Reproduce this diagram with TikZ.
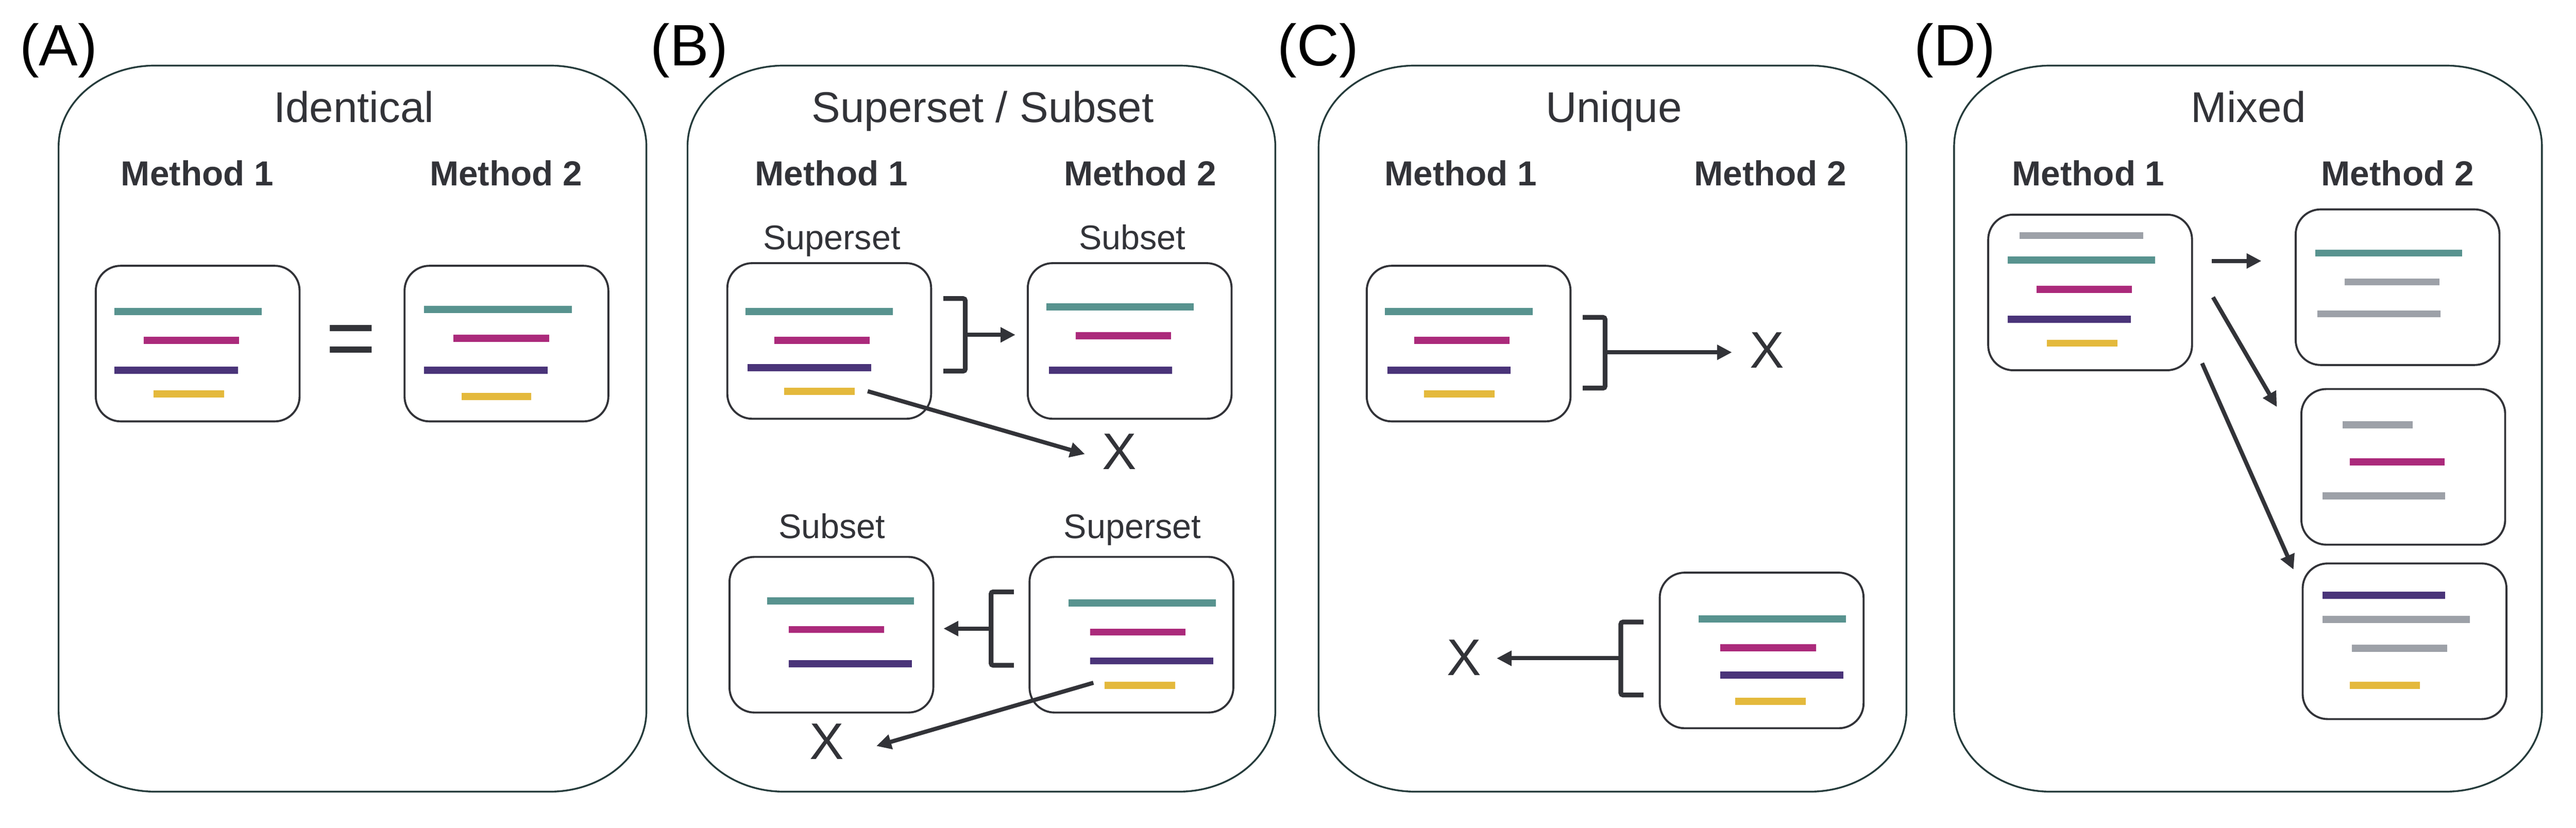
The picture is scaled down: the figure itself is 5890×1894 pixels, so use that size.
\documentclass[tikz,border=0pt]{standalone}
\usepackage{fontspec}
\setmainfont{Liberation Sans}
\usetikzlibrary{arrows.meta}

\definecolor{ink}{HTML}{323338}
\definecolor{frame}{HTML}{263C3C}
\definecolor{barteal}{HTML}{58938F}
\definecolor{barmagenta}{HTML}{AB2A7B}
\definecolor{barpurple}{HTML}{4A3479}
\definecolor{baryellow}{HTML}{E4B93C}
\definecolor{bargray}{HTML}{9DA1A8}

\begin{document}
\begin{tikzpicture}[
    x = 0.1mm, y = -0.1mm,
    panel/.style   = {draw = frame, line width = 1.15pt},
    listbox/.style = {draw = ink, line width = 1.3pt, rounded corners = 5.7mm,
                      minimum width = 46.6mm, minimum height = 35.6mm, inner sep = 0pt},
    bar/.style     = {draw = #1, line width = 4.6pt},
    letter/.style  = {anchor = base, font = \fontsize{38}{40}\selectfont},
    heading/.style = {anchor = base, text = ink, font = \fontsize{28}{30}\selectfont},
    method/.style  = {anchor = base, text = ink, font = \fontsize{22.6}{24}\selectfont\bfseries},
    setname/.style = {anchor = base, text = ink, font = \fontsize{22.3}{24}\selectfont},
    gone/.style    = {text = ink, inner sep = 0pt, font = \fontsize{33.5}{35}\selectfont},
    bracket/.style = {draw = ink, line width = 3.1pt, rounded corners = 0.5mm},
    arr/.style     = {draw = ink, line width = 2.7pt, -{Triangle[length = 3.4mm, width = 3.3mm]}}
  ]
  \useasboundingbox (0,0) rectangle (5890,1894);
  % panels
  \foreach \px in {134, 1572, 3015, 4468}
    \draw[panel] (\px,335) .. controls (\px,233) and (\px+99,150) .. (\px+220,150)
      -- (\px+1124,150) .. controls (\px+1245,150) and (\px+1344,233) .. (\px+1344,335)
      -- (\px+1344,1626) .. controls (\px+1344,1728) and (\px+1245,1811) .. (\px+1124,1811)
      -- (\px+220,1811) .. controls (\px+99,1811) and (\px,1728) .. (\px,1626) -- cycle;
  % panel letters and headings
  \node[letter]  (lA) at (134, 150)  {(A)};
  \node[letter]  (lB) at (1576, 150) {(B)};
  \node[letter]  (lC) at (3014, 150) {(C)};
  \node[letter]  (lD) at (4470, 150) {(D)};
  \node[heading] (hA) at (809, 280)  {Identical};
  \node[heading] (hB) at (2247, 280) {Superset / Subset};
  \node[heading] (hC) at (3690, 280) {Unique};
  \node[heading] (hD) at (5141, 280) {Mixed};
  \node[method] (mA1) at (451, 425)  {Method 1};
  \node[method] (mA2) at (1157, 425) {Method 2};
  \node[method] (mB1) at (1901, 425) {Method 1};
  \node[method] (mB2) at (2607, 425) {Method 2};
  \node[method] (mC1) at (3340, 425) {Method 1};
  \node[method] (mC2) at (4048, 425) {Method 2};
  \node[method] (mD1) at (4775, 425) {Method 1};
  \node[method] (mD2) at (5482, 425) {Method 2};
  \node[setname] (sup1) at (1902, 571)  {Superset};
  \node[setname] (sub1) at (2589, 571)  {Subset};
  \node[setname] (sub2) at (1902, 1232) {Subset};
  \node[setname] (sup2) at (2589, 1232) {Superset};
  % result lists
  \node[listbox] (A1) at (452, 786)   {};
  \node[listbox] (A2) at (1158, 786)  {};
  \node[listbox] (B1) at (1896, 780)  {};
  \node[listbox] (B2) at (2583, 780)  {};
  \node[listbox] (B3) at (1901, 1452) {};
  \node[listbox] (B4) at (2587, 1452) {};
  \node[listbox] (C1) at (3358, 786)  {};
  \node[listbox] (C2) at (4028, 1488) {};
  \node[listbox] (D1) at (4779, 669)  {};
  \node[listbox] (D2) at (5482, 657)  {};
  \node[listbox] (D3) at (5495, 1068) {};
  \node[listbox] (D4) at (5498, 1467) {};
  \foreach \c/\xa/\xb/\yy in {
      barteal/262/599/713, barmagenta/329/547/779, barpurple/262/544/847, baryellow/351/513/901,
      barteal/970/1307/708, barmagenta/1037/1256/774, barpurple/970/1252/847, baryellow/1055/1215/907,
      barteal/1705/2041/713, barmagenta/1771/1989/779, barpurple/1709/1992/841, baryellow/1793/1954/895,
      barteal/2393/2729/702, barmagenta/2460/2678/768, barpurple/2398/2680/847,
      barteal/1754/2090/1375, barmagenta/1804/2022/1440, barpurple/1804/2085/1518,
      barteal/2443/2780/1379, barmagenta/2493/2711/1446, barpurple/2493/2774/1512, baryellow/2526/2687/1568,
      barteal/3167/3504/713, barmagenta/3233/3452/779, barpurple/3172/3454/847, baryellow/3256/3417/901,
      barteal/3884/4221/1416, barmagenta/3933/4152/1482, barpurple/3933/4215/1544, baryellow/3967/4129/1604,
      bargray/4618/4900/539, barteal/4591/4927/595, barmagenta/4657/4875/662, barpurple/4591/4872/730, baryellow/4680/4841/785,
      barteal/5294/5630/579, bargray/5361/5578/645, bargray/5299/5580/718,
      bargray/5356/5516/972, barmagenta/5373/5589/1057, bargray/5310/5591/1134,
      barpurple/5310/5591/1362, bargray/5310/5647/1417, bargray/5377/5596/1483, baryellow/5373/5533/1568}
    \draw[bar = \c] (\xa,\yy) -- (\xb,\yy);
  % identical
  \node[anchor = base, text = ink, font = \fontsize{56}{60}\selectfont] (eq) at (803, 840) {=};
  % dropped items
  \node[gone] (xB1) at (2559, 1033) {X};
  \node[gone] (xB2) at (1890, 1697) {X};
  \node[gone] (xC1) at (4040, 801)  {X};
  \node[gone] (xC2) at (3348, 1505) {X};
  % brackets
  \draw[bracket] (2157,683) -- (2207,683) -- (2207,849) -- (2157,849);
  \draw[bracket] (2318,1354) -- (2266,1354) -- (2266,1522) -- (2318,1522);
  \draw[bracket] (3619,726) -- (3670,726) -- (3670,888) -- (3619,888);
  \draw[bracket] (3758,1423) -- (3706,1423) -- (3706,1590) -- (3758,1590);
  \coordinate (brB1) at (2207, 766);
  \coordinate (brB4) at (2266, 1438);
  \coordinate (brC1) at (3670, 806);
  \coordinate (brC2) at (3706, 1506);
  \coordinate (sB1) at (1984, 895);
  \coordinate (sB4) at (2500, 1562);
  \coordinate (sD2) at (5057, 597);
  \coordinate (sD3) at (5060, 680);
  \coordinate (tD3) at (5206, 931);
  \coordinate (sD4) at (5035, 831);
  \coordinate (tD4) at (5244, 1303);
  % arrows
  \draw[arr, shorten >= 2.6mm] (brB1) -- (brB1 -| B2.west);
  \draw[arr, shorten >= 2.1mm] (brB4) -- (brB4 -| B3.east);
  \draw[arr, shorten >= 4mm]   (sB1)  -- (xB1.203);
  \draw[arr, shorten >= 7.7mm] (sB4)  -- (xB2.-38);
  \draw[arr, shorten >= 4mm]   (brC1) -- (brC1 -| xC1.west);
  \draw[arr, shorten >= 3.4mm] (brC2) -- (brC2 -| xC2.east);
  \draw[arr, shorten >= 7.6mm] (sD2)  -- (sD2 -| D2.west);
  \draw[arr] (sD3) -- (tD3);
  \draw[arr] (sD4) -- (tD4);
\end{tikzpicture}
\end{document}
